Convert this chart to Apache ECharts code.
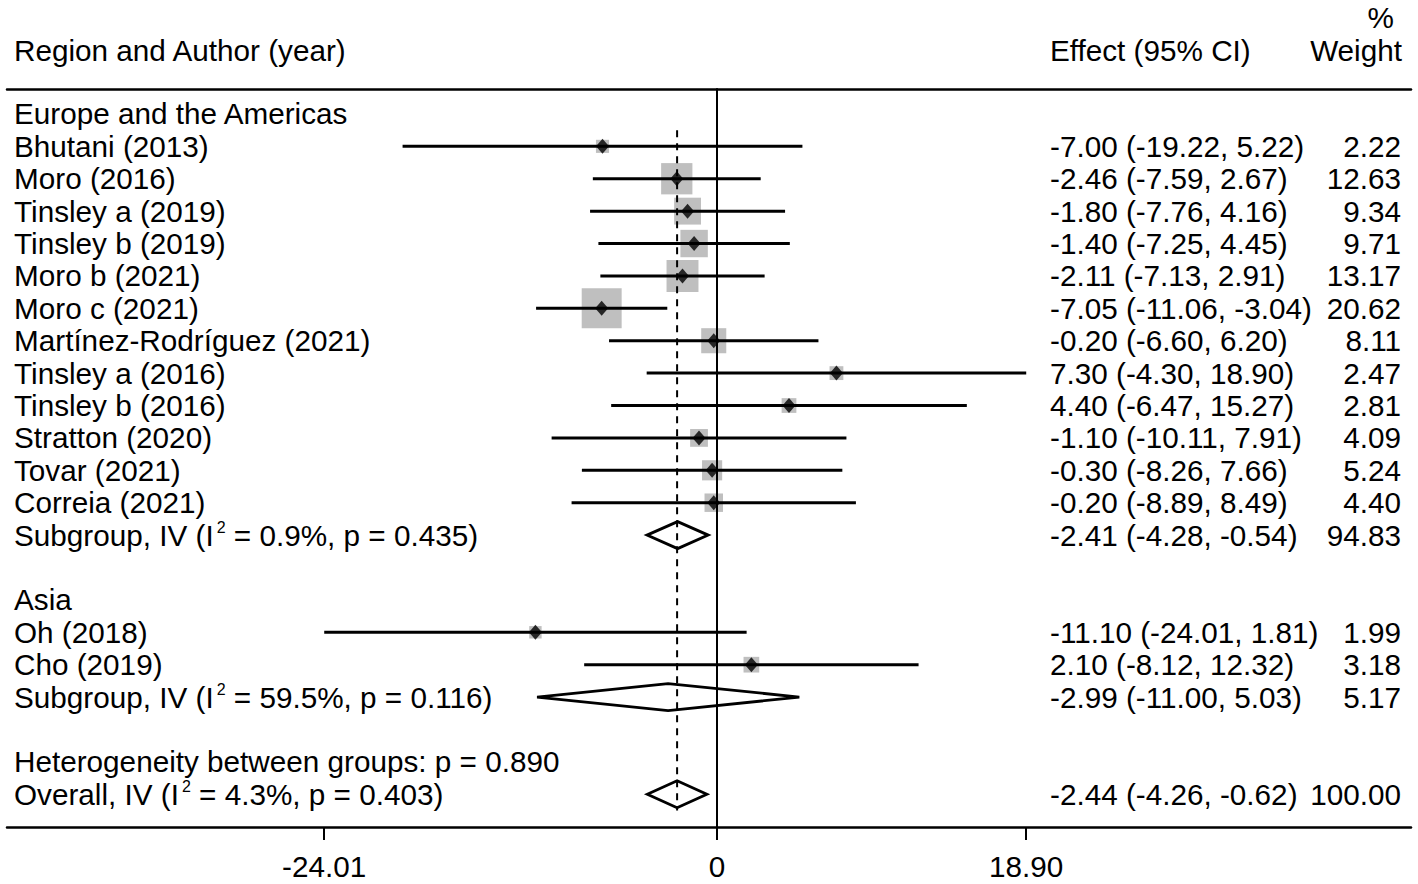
<!DOCTYPE html>
<html>
<head>
<meta charset="utf-8">
<title>Forest plot</title>
<script src="https://cdn.jsdelivr.net/npm/echarts@6/dist/echarts.min.js"></script>
<style>
  html, body { margin: 0; padding: 0; background: #fff; }
  #main { width: 1418px; height: 884px; }
</style>
</head>
<body>
<div id="main"></div>
<script>
// 数据
var groupNames = ['Europe and the Americas', 'Asia'];
var studyNames = ['Bhutani (2013)', 'Moro (2016)', 'Tinsley a (2019)', 'Tinsley b (2019)',
  'Moro b (2021)', 'Moro c (2021)', 'Martínez-Rodríguez (2021)', 'Tinsley a (2016)',
  'Tinsley b (2016)', 'Stratton (2020)', 'Tovar (2021)', 'Correia (2021)',
  'Oh (2018)', 'Cho (2019)'];
var studyGroup = [0, 0, 0, 0, 0, 0, 0, 0, 0, 0, 0, 0, 1, 1];
var studyEffect = [-7.00, -2.46, -1.80, -1.40, -2.11, -7.05, -0.20, 7.30, 4.40, -1.10, -0.30, -0.20, -11.10, 2.10];
var studyLow = [-19.22, -7.59, -7.76, -7.25, -7.13, -11.06, -6.60, -4.30, -6.47, -10.11, -8.26, -8.89, -24.01, -8.12];
var studyHigh = [5.22, 2.67, 4.16, 4.45, 2.91, -3.04, 6.20, 18.90, 15.27, 7.91, 7.66, 8.49, 1.81, 12.32];
var studyWeight = [2.22, 12.63, 9.34, 9.71, 13.17, 20.62, 8.11, 2.47, 2.81, 4.09, 5.24, 4.40, 1.99, 3.18];

var subEffect = [-2.41, -2.99];
var subLow = [-4.28, -11.00];
var subHigh = [-0.54, 5.03];
var subWeight = [94.83, 5.17];
var subI2 = ['0.9%', '59.5%'];
var subP = ['0.435', '0.116'];

var overallEffect = -2.44;
var overallLow = -4.26;
var overallHigh = -0.62;
var overallWeight = 100.00;
var overallI2 = '4.3%';
var overallP = '0.403';
var betweenP = '0.890';

var tickValues = [-24.01, 0, 18.90];
var tickLabels = ['-24.01', '0', '18.90'];

var FONT = '"Liberation Sans", Arial, sans-serif';
var FS = 29.7;

function fmt(v) { return v.toFixed(2); }
function ci(e, l, h) { return fmt(e) + ' (' + fmt(l) + ', ' + fmt(h) + ')'; }

// 组织行
var tableRows = [];
var studyPts = [];
var whiskers = [];
var pooled = [];
var row = 0;
groupNames.forEach(function (g, gi) {
  tableRows.push({ row: row, left: g, effect: '', weight: '' });
  row++;
  studyNames.forEach(function (n, i) {
    if (studyGroup[i] !== gi) return;
    tableRows.push({ row: row, left: n, effect: ci(studyEffect[i], studyLow[i], studyHigh[i]), weight: fmt(studyWeight[i]) });
    studyPts.push([studyEffect[i], row, studyWeight[i]]);
    whiskers.push([studyLow[i], studyHigh[i], row]);
    row++;
  });
  tableRows.push({
    row: row,
    left: 'Subgroup, IV (I{sup|2} = ' + subI2[gi] + ', p = ' + subP[gi] + ')',
    effect: ci(subEffect[gi], subLow[gi], subHigh[gi]),
    weight: fmt(subWeight[gi])
  });
  pooled.push([subLow[gi], subEffect[gi], subHigh[gi], row]);
  row += 2;
});
tableRows.push({ row: row, left: 'Heterogeneity between groups: p = ' + betweenP, effect: '', weight: '' });
row++;
tableRows.push({
  row: row,
  left: 'Overall, IV (I{sup|2} = ' + overallI2 + ', p = ' + overallP + ')',
  effect: ci(overallEffect, overallLow, overallHigh),
  weight: fmt(overallWeight)
});
pooled.push([overallLow, overallEffect, overallHigh, row]);
var lastRow = row;

var myChart = echarts.init(document.getElementById('main'), null, { renderer: 'svg' });

var option = {
  backgroundColor: '#fff',
  animation: false,
  grid: { left: 7, right: 7, top: 89, bottom: 57, containLabel: false, outerBoundsMode: 'none' },
  xAxis: [{
    type: 'value',
    min: -43.40,
    max: 42.42,
    axisLine: { show: true, onZero: false, lineStyle: { color: '#000', width: 2.5 } },
    axisTick: { show: true, length: 13, customValues: tickValues, lineStyle: { color: '#000', width: 2 } },
    axisLabel: {
      show: true,
      customValues: tickValues,
      margin: 24,
      color: '#000',
      fontFamily: FONT,
      fontSize: FS,
      formatter: function (v) {
        var k = 0;
        for (var i = 1; i < tickValues.length; i++) {
          if (Math.abs(tickValues[i] - v) < Math.abs(tickValues[k] - v)) k = i;
        }
        return tickLabels[k];
      }
    },
    splitLine: { show: false }
  }, {
    type: 'value',
    position: 'top',
    min: -43.40,
    max: 42.42,
    axisLine: { show: true, onZero: false, lineStyle: { color: '#000', width: 2.5 } },
    axisTick: { show: false },
    axisLabel: { show: false },
    splitLine: { show: false }
  }],
  yAxis: {
    type: 'value',
    inverse: true,
    min: -0.77,
    max: 22.01,
    z: 6,
    axisLine: { show: true, onZero: true, lineStyle: { color: '#000', width: 2 } },
    axisTick: { show: false },
    axisLabel: { show: false },
    splitLine: { show: false }
  },
  graphic: [
    { type: 'text', left: 14, top: 35, style: { text: 'Region and Author (year)', font: FS + 'px ' + FONT, fill: '#000' } },
    { type: 'text', left: 1050, top: 35, style: { text: 'Effect (95% CI)', font: FS + 'px ' + FONT, fill: '#000' } },
    { type: 'text', right: 24, top: 2, style: { text: '%', font: FS + 'px ' + FONT, fill: '#000', textAlign: 'right' } },
    { type: 'text', right: 16, top: 35, style: { text: 'Weight', font: FS + 'px ' + FONT, fill: '#000', textAlign: 'right' } }
  ],
  series: [
    { // 权重方块
      type: 'scatter',
      name: 'weight',
      z: 1,
      data: studyPts,
      symbol: 'rect',
      symbolSize: function (v) { return 8.8 * Math.sqrt(v[2]); },
      itemStyle: { color: '#bfbfbf', opacity: 1 },
      silent: true
    },
    { // 置信区间
      type: 'custom',
      name: 'ci',
      z: 2,
      data: whiskers,
      encode: { x: [0, 1], y: 2 },
      renderItem: function (params, api) {
        var p1 = api.coord([api.value(0), api.value(2)]);
        var p2 = api.coord([api.value(1), api.value(2)]);
        return {
          type: 'line',
          shape: { x1: p1[0], y1: p1[1], x2: p2[0], y2: p2[1] },
          style: { stroke: '#000', lineWidth: 3 }
        };
      },
      silent: true
    },
    { // 点估计
      type: 'scatter',
      name: 'effect',
      z: 3,
      data: studyPts,
      symbol: 'diamond',
      symbolSize: [13, 15],
      itemStyle: { color: '#000' },
      silent: true
    },
    { // 合并菱形
      type: 'custom',
      name: 'pooled',
      z: 3,
      data: pooled,
      encode: { x: [0, 1, 2], y: 3 },
      renderItem: function (params, api) {
        var r = api.value(3);
        var a = api.coord([api.value(0), r]);
        var m = api.coord([api.value(1), r]);
        var b = api.coord([api.value(2), r]);
        var h = 13.5;
        return {
          type: 'polygon',
          shape: { points: [[a[0], a[1]], [m[0], m[1] - h], [b[0], b[1]], [m[0], m[1] + h]] },
          style: { fill: '#fff', stroke: '#000', lineWidth: 2.8 }
        };
      },
      silent: true
    },
    { // 总体效应虚线
      type: 'line',
      name: 'overall',
      z: 4,
      data: [[overallEffect, 0.5], [overallEffect, lastRow + 0.5]],
      symbol: 'none',
      lineStyle: { color: '#000', width: 2, type: [7, 6] },
      silent: true
    },
    { // 表格文字
      type: 'custom',
      name: 'table',
      z: 5,
      data: tableRows.map(function (r) { return [0, r.row]; }),
      renderItem: function (params, api) {
        var r = tableRows[params.dataIndex];
        var y = api.coord([0, r.row])[1];
        var base = { font: FS + 'px ' + FONT, fill: '#000', textVerticalAlign: 'middle' };
        return {
          type: 'group',
          children: [
            { type: 'text', style: Object.assign({}, base, {
                text: r.left, x: 14, y: y, textAlign: 'left', lineHeight: 32,
                rich: { sup: { fontSize: 16, lineHeight: 16, fontFamily: FONT, fill: '#000', verticalAlign: 'top', padding: [0, 0, 0, 3] } }
              }) },
            { type: 'text', style: Object.assign({}, base, { text: r.effect, x: 1050, y: y, textAlign: 'left' }) },
            { type: 'text', style: Object.assign({}, base, { text: r.weight, x: 1401, y: y, textAlign: 'right' }) }
          ]
        };
      },
      silent: true
    }
  ]
};

myChart.setOption(option);
</script>
</body>
</html>
